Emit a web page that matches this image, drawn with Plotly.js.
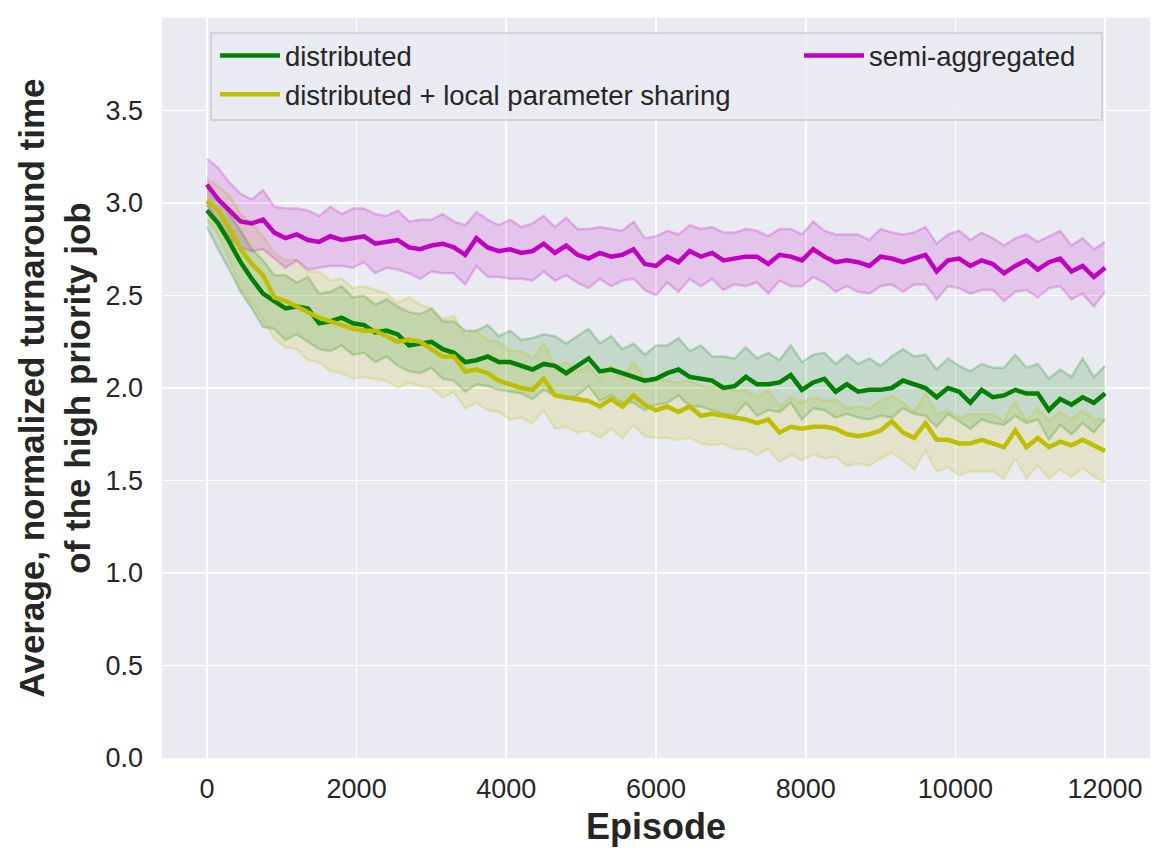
<!DOCTYPE html>
<html>
<head>
<meta charset="utf-8">
<script src="https://cdn.plot.ly/plotly-3.0.1.min.js"></script>
<style>
	body { margin: 0; background: #ffffff; }
	#chart { width: 1172px; height: 868px; }
</style>
</head>
<body>
<div id="chart"></div>
<script>
// episode sample points (every 150 episodes)
var episodes = [0, 150, 300, 450, 600, 750, 900, 1050, 1200, 1350,
	1500, 1650, 1800, 1950, 2100, 2250, 2400, 2550, 2700, 2850,
	3000, 3150, 3300, 3450, 3600, 3750, 3900, 4050, 4200, 4350,
	4500, 4650, 4800, 4950, 5100, 5250, 5400, 5550, 5700, 5850,
	6000, 6150, 6300, 6450, 6600, 6750, 6900, 7050, 7200, 7350,
	7500, 7650, 7800, 7950, 8100, 8250, 8400, 8550, 8700, 8850,
	9000, 9150, 9300, 9450, 9600, 9750, 9900, 10050, 10200, 10350,
	10500, 10650, 10800, 10950, 11100, 11250, 11400, 11550, 11700, 11850,
	12000];

// distributed
var greenMean = [2.96, 2.89, 2.79, 2.68, 2.59, 2.51, 2.47, 2.43, 2.44, 2.43,
	2.35, 2.36, 2.38, 2.35, 2.34, 2.30, 2.31, 2.29, 2.23, 2.24,
	2.25, 2.21, 2.19, 2.14, 2.15, 2.17, 2.14, 2.14, 2.12, 2.10,
	2.13, 2.12, 2.08, 2.12, 2.16, 2.09, 2.10, 2.08, 2.06, 2.04,
	2.05, 2.08, 2.10, 2.06, 2.05, 2.04, 2.00, 2.01, 2.06, 2.02,
	2.02, 2.03, 2.07, 1.99, 2.03, 2.05, 1.98, 2.02, 1.98, 1.99,
	1.99, 2.00, 2.04, 2.02, 2.00, 1.95, 2.00, 1.98, 1.92, 1.99,
	1.95, 1.96, 1.99, 1.97, 1.97, 1.88, 1.94, 1.91, 1.95, 1.92,
	1.97];
var greenUpper = [3.08, 3.03, 2.94, 2.85, 2.75, 2.69, 2.61, 2.61, 2.57, 2.60,
	2.51, 2.52, 2.55, 2.49, 2.50, 2.45, 2.48, 2.44, 2.41, 2.40,
	2.43, 2.36, 2.36, 2.31, 2.31, 2.34, 2.28, 2.31, 2.26, 2.27,
	2.29, 2.28, 2.24, 2.28, 2.32, 2.24, 2.28, 2.21, 2.24, 2.18,
	2.23, 2.23, 2.27, 2.20, 2.23, 2.17, 2.17, 2.16, 2.22, 2.16,
	2.19, 2.15, 2.23, 2.14, 2.18, 2.19, 2.13, 2.18, 2.13, 2.16,
	2.12, 2.17, 2.21, 2.17, 2.18, 2.10, 2.16, 2.12, 2.09, 2.13,
	2.11, 2.11, 2.18, 2.11, 2.13, 2.05, 2.10, 2.06, 2.16, 2.06,
	2.12];
var greenLower = [2.87, 2.75, 2.64, 2.52, 2.43, 2.33, 2.32, 2.26, 2.29, 2.25,
	2.21, 2.20, 2.23, 2.18, 2.19, 2.14, 2.17, 2.12, 2.09, 2.08,
	2.11, 2.05, 2.04, 1.98, 2.02, 2.01, 1.99, 1.98, 1.97, 1.94,
	1.99, 1.96, 1.94, 1.96, 2.01, 1.93, 1.96, 1.92, 1.92, 1.88,
	1.91, 1.92, 1.96, 1.90, 1.90, 1.88, 1.86, 1.85, 1.92, 1.85,
	1.88, 1.87, 1.92, 1.83, 1.89, 1.88, 1.84, 1.86, 1.84, 1.83,
	1.85, 1.84, 1.89, 1.86, 1.85, 1.79, 1.86, 1.82, 1.78, 1.83,
	1.81, 1.80, 1.85, 1.81, 1.83, 1.72, 1.80, 1.75, 1.81, 1.76,
	1.83];

// distributed + local parameter sharing
var yellowMean = [3.01, 2.96, 2.86, 2.75, 2.67, 2.61, 2.49, 2.47, 2.44, 2.41,
	2.38, 2.36, 2.34, 2.32, 2.31, 2.31, 2.28, 2.25, 2.26, 2.25,
	2.21, 2.17, 2.17, 2.09, 2.10, 2.08, 2.04, 2.02, 2.00, 1.99,
	2.05, 1.96, 1.95, 1.94, 1.93, 1.90, 1.94, 1.90, 1.96, 1.91,
	1.88, 1.90, 1.87, 1.90, 1.85, 1.86, 1.85, 1.84, 1.83, 1.81,
	1.83, 1.76, 1.79, 1.78, 1.79, 1.79, 1.78, 1.75, 1.74, 1.75,
	1.77, 1.82, 1.76, 1.73, 1.81, 1.72, 1.72, 1.70, 1.70, 1.72,
	1.70, 1.68, 1.77, 1.68, 1.73, 1.68, 1.71, 1.69, 1.72, 1.69,
	1.66];
var yellowUpper = [3.13, 3.09, 3.04, 2.94, 2.89, 2.82, 2.73, 2.69, 2.69, 2.63,
	2.63, 2.58, 2.59, 2.54, 2.55, 2.53, 2.51, 2.46, 2.49, 2.45,
	2.43, 2.37, 2.39, 2.28, 2.31, 2.26, 2.25, 2.20, 2.20, 2.16,
	2.24, 2.12, 2.14, 2.09, 2.12, 2.05, 2.12, 2.05, 2.14, 2.05,
	2.05, 2.04, 2.03, 2.04, 2.01, 2.00, 2.02, 1.98, 1.99, 1.95,
	1.99, 1.90, 1.95, 1.92, 1.95, 1.93, 1.94, 1.89, 1.90, 1.89,
	1.93, 1.96, 1.92, 1.87, 1.97, 1.86, 1.88, 1.84, 1.86, 1.86,
	1.86, 1.82, 1.93, 1.82, 1.89, 1.82, 1.87, 1.83, 1.88, 1.83,
	1.83];
var yellowLower = [2.91, 2.83, 2.69, 2.54, 2.46, 2.37, 2.27, 2.22, 2.21, 2.15,
	2.14, 2.09, 2.08, 2.05, 2.06, 2.05, 2.04, 2.00, 2.03, 2.01,
	2.00, 1.95, 1.98, 1.89, 1.92, 1.88, 1.87, 1.83, 1.84, 1.81,
	1.88, 1.78, 1.79, 1.76, 1.77, 1.73, 1.78, 1.73, 1.80, 1.74,
	1.73, 1.73, 1.72, 1.73, 1.70, 1.69, 1.70, 1.67, 1.67, 1.64,
	1.67, 1.60, 1.64, 1.61, 1.64, 1.62, 1.63, 1.58, 1.59, 1.58,
	1.62, 1.65, 1.61, 1.56, 1.66, 1.55, 1.57, 1.53, 1.55, 1.55,
	1.55, 1.51, 1.62, 1.51, 1.58, 1.51, 1.56, 1.52, 1.57, 1.52,
	1.49];

// semi-aggregated
var magentaMean = [3.10, 3.02, 2.96, 2.90, 2.89, 2.91, 2.84, 2.81, 2.83, 2.80,
	2.79, 2.82, 2.80, 2.81, 2.82, 2.78, 2.79, 2.80, 2.76, 2.75,
	2.77, 2.78, 2.76, 2.72, 2.81, 2.76, 2.74, 2.75, 2.73, 2.74,
	2.78, 2.73, 2.77, 2.72, 2.70, 2.73, 2.71, 2.72, 2.75, 2.67,
	2.66, 2.71, 2.68, 2.74, 2.71, 2.73, 2.69, 2.70, 2.71, 2.71,
	2.67, 2.72, 2.71, 2.69, 2.75, 2.71, 2.68, 2.69, 2.68, 2.66,
	2.71, 2.70, 2.68, 2.70, 2.72, 2.63, 2.69, 2.70, 2.66, 2.69,
	2.67, 2.62, 2.66, 2.69, 2.64, 2.68, 2.70, 2.63, 2.66, 2.60,
	2.65];
var magentaUpper = [3.24, 3.19, 3.11, 3.05, 3.02, 3.07, 2.98, 2.97, 2.97, 2.96,
	2.93, 2.98, 2.94, 2.97, 2.97, 2.94, 2.93, 2.96, 2.90, 2.91,
	2.91, 2.94, 2.90, 2.88, 2.95, 2.91, 2.88, 2.91, 2.87, 2.89,
	2.93, 2.87, 2.92, 2.86, 2.86, 2.87, 2.86, 2.85, 2.90, 2.81,
	2.82, 2.85, 2.83, 2.88, 2.86, 2.87, 2.84, 2.84, 2.86, 2.85,
	2.82, 2.86, 2.86, 2.83, 2.90, 2.85, 2.83, 2.83, 2.83, 2.80,
	2.86, 2.84, 2.83, 2.84, 2.87, 2.78, 2.83, 2.85, 2.80, 2.84,
	2.81, 2.77, 2.81, 2.83, 2.79, 2.82, 2.85, 2.77, 2.81, 2.75,
	2.79];
var magentaLower = [2.99, 2.89, 2.81, 2.76, 2.74, 2.75, 2.70, 2.65, 2.69, 2.64,
	2.65, 2.66, 2.66, 2.65, 2.68, 2.62, 2.65, 2.64, 2.62, 2.59,
	2.63, 2.62, 2.62, 2.56, 2.66, 2.60, 2.60, 2.59, 2.59, 2.58,
	2.63, 2.58, 2.61, 2.57, 2.54, 2.59, 2.55, 2.58, 2.59, 2.53,
	2.50, 2.57, 2.52, 2.59, 2.55, 2.59, 2.53, 2.56, 2.55, 2.57,
	2.51, 2.58, 2.55, 2.55, 2.60, 2.57, 2.52, 2.55, 2.52, 2.51,
	2.55, 2.56, 2.52, 2.56, 2.56, 2.48, 2.55, 2.54, 2.51, 2.53,
	2.53, 2.47, 2.52, 2.53, 2.49, 2.54, 2.55, 2.48, 2.51, 2.44,
	2.52];

var xTicks = [0, 2000, 4000, 6000, 8000, 10000, 12000];
var yTicks = [0, 0.5, 1.0, 1.5, 2.0, 2.5, 3.0, 3.5];

var textFont = 'Liberation Sans, Arial, sans-serif';

function band(upper, lower, rgb) {
	// shaded spread around a mean line
	return [{
		type: 'scatter',
		mode: 'lines',
		x: episodes,
		y: upper,
		line: { color: 'rgba(' + rgb + ',0.22)', width: 2.5 },
		showlegend: false,
		hoverinfo: 'skip'
	}, {
		type: 'scatter',
		mode: 'lines',
		x: episodes,
		y: lower,
		fill: 'tonexty',
		fillcolor: 'rgba(' + rgb + ',0.16)',
		line: { color: 'rgba(' + rgb + ',0.22)', width: 2.5 },
		showlegend: false,
		hoverinfo: 'skip'
	}];
}

function meanLine(values, name, color, legendName) {
	return {
		type: 'scatter',
		mode: 'lines',
		name: name,
		x: episodes,
		y: values,
		line: { color: color, width: 4.5 },
		legend: legendName,
		legendgroup: name
	};
}

var traces = []
	.concat(band(greenUpper, greenLower, '0,128,0'))
	.concat(band(yellowUpper, yellowLower, '191,191,0'))
	.concat(band(magentaUpper, magentaLower, '191,0,191'));
traces.push(meanLine(greenMean, 'distributed', 'rgb(0,128,0)', 'legend'));
traces.push(meanLine(yellowMean, 'distributed + local parameter sharing', 'rgb(191,191,0)', 'legend'));
traces.push(meanLine(magentaMean, 'semi-aggregated', 'rgb(191,0,191)', 'legend2'));

var legendStyle = {
	orientation: 'v',
	traceorder: 'normal',
	tracegroupgap: 9,
	bgcolor: 'rgba(0,0,0,0)',
	borderwidth: 0,
	font: { family: textFont, size: 27.5, color: '#262626' },
	itemwidth: 60,
	yanchor: 'top',
	xanchor: 'left',
	y: 0.9824
};

var layout = {
	width: 1172,
	height: 868,
	margin: { l: 162, r: 22, t: 18, b: 110 },
	paper_bgcolor: '#ffffff',
	plot_bgcolor: '#eaeaf2',
	font: { family: textFont, color: '#262626' },
	xaxis: {
		range: [-600, 12600],
		tickvals: xTicks,
		tickformat: 'd',
		showgrid: true,
		gridcolor: '#ffffff',
		gridwidth: 1.6,
		zeroline: false,
		showline: false,
		ticks: '',
		ticklabelstandoff: 12,
		tickfont: { family: textFont, size: 27, color: '#262626' },
		title: {
			text: 'Episode',
			font: { family: textFont, size: 36, weight: 'bold', color: '#262626' },
			standoff: 10
		}
	},
	yaxis: {
		range: [0, 4.0],
		tickvals: yTicks,
		tickformat: '.1f',
		showgrid: true,
		gridcolor: '#ffffff',
		gridwidth: 1.6,
		zeroline: false,
		showline: false,
		ticks: '',
		ticklabelstandoff: 18,
		tickfont: { family: textFont, size: 27, color: '#262626' },
		title: {
			text: 'Average, normalized turnaround time<br>of the high priority job',
			font: { family: textFont, size: 35, weight: 'bold', color: '#262626' },
			standoff: 4
		}
	},
	legend: Object.assign({}, legendStyle, { x: 0.0536 }),
	legend2: Object.assign({}, legendStyle, { x: 0.6447 }),
	shapes: [{
		// legend frame shared by both legend columns
		type: 'rect',
		xref: 'paper',
		yref: 'paper',
		x0: 0.0496,
		x1: 0.9514,
		y0: 0.8622,
		y1: 0.9797,
		line: { color: '#cccccc', width: 1.5 },
		fillcolor: 'rgba(234,234,242,0.8)',
		layer: 'above'
	}],
	showlegend: true
};

Plotly.newPlot('chart', traces, layout, { displayModeBar: false, staticPlot: true });
</script>
</body>
</html>
